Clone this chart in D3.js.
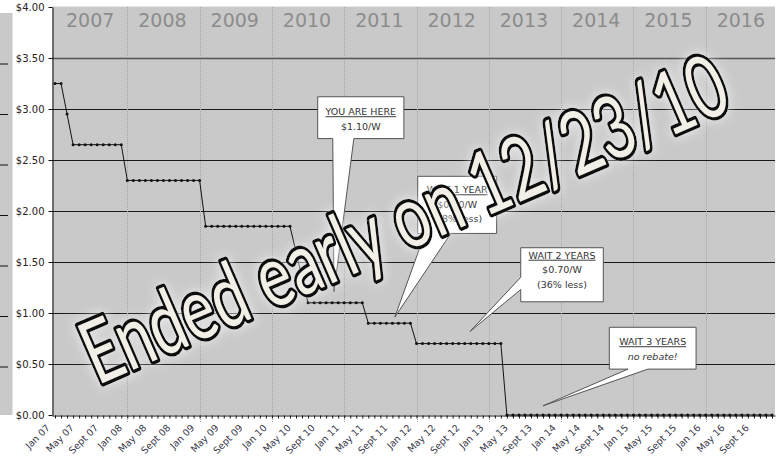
<!DOCTYPE html>
<html>
<head>
<meta charset="utf-8">
<script src="https://cdn.jsdelivr.net/npm/d3@7"></script>
<style>
  body { margin: 0; background: #fff; }
  svg { display: block; font-family: "DejaVu Sans", Verdana, sans-serif; }
</style>
</head>
<body>
<svg id="chart" width="783" height="458"></svg>
<script>
// year bands shown along the top of the plot
var years = ["2007", "2008", "2009", "2010", "2011", "2012", "2013", "2014", "2015", "2016"];

// label under every 4th month
var tickLabels = [
  "Jan 07", "May 07", "Sept 07", "Jan 08", "May 08", "Sept 08",
  "Jan 09", "May 09", "Sept 09", "Jan 10", "May 10", "Sept 10",
  "Jan 11", "May 11", "Sept 11", "Jan 12", "May 12", "Sept 12",
  "Jan 13", "May 13", "Sept 13", "Jan 14", "May 14", "Sept 14",
  "Jan 15", "May 15", "Sept 15", "Jan 16", "May 16", "Sept 16"
];

// rebate in $/W, one value per month from Jan 07 to Dec 16 (null = no point)
var rebate = [
  3.25, 3.25, 2.95, 2.65, 2.65, 2.65, 2.65, 2.65, 2.65, 2.65, 2.65, 2.65,
  2.30, 2.30, 2.30, 2.30, 2.30, 2.30, 2.30, 2.30, 2.30, 2.30, 2.30, 2.30,
  2.30, 1.85, 1.85, 1.85, 1.85, 1.85, 1.85, 1.85, 1.85, 1.85, 1.85, 1.85,
  1.85, 1.85, 1.85, 1.85, null, null, 1.10, 1.10, 1.10, 1.10, 1.10, 1.10,
  1.10, 1.10, 1.10, 1.10, 0.90, 0.90, 0.90, 0.90, 0.90, 0.90, 0.90, 0.90,
  0.70, 0.70, 0.70, 0.70, 0.70, 0.70, 0.70, 0.70, 0.70, 0.70, 0.70, 0.70,
  0.70, 0.70, 0.70, 0, 0, 0, 0, 0, 0, 0, 0, 0,
  0, 0, 0, 0, 0, 0, 0, 0, 0, 0, 0, 0,
  0, 0, 0, 0, 0, 0, 0, 0, 0, 0, 0, 0,
  0, 0, 0, 0, 0, 0, 0, 0, 0, 0, 0, 0
];

var yTicks = [0, 0.5, 1, 1.5, 2, 2.5, 3, 3.5, 4];

// callout boxes, placed in data units (month index, $/W)
var callouts = [
  {lines: ["YOU ARE HERE", "$1.10/W"], box: [43.6, 57.9, 3.12, 2.71], side: "bottom", base: [46.1, 49.6], tip: [46.3, 1.21], pad: 18.5},
  {lines: ["WAIT 1 YEAR", "$0.90/W", "(18% less)"], box: [60.2, 73.3, 2.34, 1.78], side: "bottom", base: [61.4, 65.7], tip: [56.4, 0.96], pad: 17},
  {lines: ["WAIT 2 YEARS", "$0.70/W", "(36% less)"], box: [77.3, 91.0, 1.64, 1.11], side: "left", base: [1.35, 1.23], tip: [68.9, 0.82], pad: 11},
  {lines: ["WAIT 3 YEARS", "no rebate!"], box: [92.0, 106.4, 0.86, 0.45], side: "bottom", base: [95.1, 98.4], tip: [81.0, 0.09], pad: 18, italic: true}
];

var bigText = "Ended early on 12/23/10";

var svg = d3.select("#chart");
var plotL = 52, plotR = 775, plotT = 7, plotB = 415;

var x = d3.scaleLinear().domain([-0.5, rebate.length - 0.5]).range([plotL, plotR]);
var y = d3.scaleLinear().domain([0, 4]).range([plotB, plotT]);

// scrap of the neighbouring chart at the far left
var ghostY = d3.scaleLinear().domain([0, 4]).range([417, 13]);
svg.append("rect").attr("x", 0).attr("y", ghostY(4)).attr("width", 12.5)
  .attr("height", ghostY(0) - ghostY(4) - 2).attr("fill", "#c9c9c9");
svg.selectAll(".ghost").data(yTicks.slice(1, 8)).enter().append("line")
  .attr("x1", 0).attr("x2", 8)
  .attr("y1", d => ghostY(d) + 0.5).attr("y2", d => ghostY(d) + 0.5)
  .attr("stroke", "#111");

// plot background
svg.append("rect").attr("x", plotL).attr("y", plotT - 0.5)
  .attr("width", plotR - plotL).attr("height", plotB - plotT + 0.5)
  .attr("fill", "#c9c9c9");

// horizontal gridlines
svg.selectAll(".grid").data(yTicks.slice(1, 8)).enter().append("line")
  .attr("x1", plotL).attr("x2", plotR)
  .attr("y1", d => Math.round(y(d)) + 0.5).attr("y2", d => Math.round(y(d)) + 0.5)
  .attr("stroke", d => d == 3.5 ? "#555" : "#1a1a1a")
  .attr("stroke-width", d => d == 3.5 ? 1.4 : 1);

// year dividers (dotted) and labels
var janIdx = d3.range(1, years.length).map(k => k * 12);
svg.selectAll(".yr").data(janIdx).enter().append("line")
  .attr("x1", d => Math.round(x(d)) + 0.5).attr("x2", d => Math.round(x(d)) + 0.5)
  .attr("y1", plotT).attr("y2", plotB + 8)
  .attr("stroke", "#a4a4a4").attr("stroke-dasharray", "1,1");

svg.selectAll(".yrlabel").data(years).enter().append("text")
  .attr("x", (d, i) => x(i * 12 + 5.5) + 2)
  .attr("y", 27)
  .attr("text-anchor", "middle")
  .attr("font-size", 19)
  .attr("fill", "#8c8c8c")
  .text(d => d);

// y axis
var yAxis = d3.axisLeft(y).tickValues(yTicks).tickSize(4).tickSizeOuter(0)
  .tickFormat(d3.format("$.2f"));
var gy = svg.append("g").attr("transform", "translate(" + (plotL + 0.5) + ",0)").call(yAxis);
gy.select(".domain").attr("stroke", "#111");
gy.selectAll(".tick line").attr("stroke", "#111");
gy.selectAll("text").attr("font-family", "DejaVu Sans").attr("font-size", 10).attr("fill", "#2a2222").attr("x", -8);

// x axis with a tick every month, label every 4th
var xAxis = d3.axisBottom(x).tickValues(d3.range(rebate.length)).tickSize(3).tickSizeOuter(0)
  .tickFormat(d => d % 4 == 0 ? tickLabels[d / 4] : "");
var gx = svg.append("g").attr("transform", "translate(0," + (plotB + 0.5) + ")").call(xAxis);
gx.select(".domain").attr("stroke", "#111");
gx.selectAll(".tick line").attr("stroke", "#111");
gx.selectAll("text")
  .attr("font-family", "DejaVu Sans").attr("font-size", 9.5).attr("fill", "#3a3a4a")
  .attr("text-anchor", "end").attr("y", 0).attr("dy", 0)
  .attr("transform", "translate(-5,13) rotate(-45)");

// the rebate line and its dots
var pts = rebate.map((v, i) => ({i: i, v: v})).filter(d => d.v !== null);
var line = d3.line().x(d => x(d.i)).y(d => y(d.v));
svg.append("path").datum(pts).attr("d", line)
  .attr("fill", "none").attr("stroke", "#111").attr("stroke-width", 1);
svg.selectAll(".dot").data(pts).enter().append("circle")
  .attr("cx", d => x(d.i)).attr("cy", d => y(d.v)).attr("r", 1.5).attr("fill", "#111");

// callouts
function calloutPath(c) {
  var L = x(c.box[0]), R = x(c.box[1]), T = y(c.box[2]), B = y(c.box[3]);
  var tx = x(c.tip[0]), ty = y(c.tip[1]);
  var p = d3.path();
  p.moveTo(L, T); p.lineTo(R, T); p.lineTo(R, B);
  if (c.side == "bottom") {
    p.lineTo(x(c.base[1]), B); p.lineTo(tx, ty); p.lineTo(x(c.base[0]), B);
    p.lineTo(L, B);
  } else {
    p.lineTo(L, B); p.lineTo(L, y(c.base[1])); p.lineTo(tx, ty); p.lineTo(L, y(c.base[0]));
  }
  p.closePath();
  return p.toString();
}

var cg = svg.selectAll(".callout").data(callouts).enter().append("g");
cg.append("path").attr("d", calloutPath)
  .attr("fill", "#fff").attr("stroke", "#555").attr("stroke-width", 1);
cg.each(function(c) {
  var g = d3.select(this);
  var cx = (x(c.box[0]) + x(c.box[1])) / 2;
  c.lines.forEach(function(t, k) {
    g.append("text")
      .attr("x", cx).attr("y", y(c.box[2]) + c.pad + k * 14.5)
      .attr("text-anchor", "middle").attr("font-size", 9.5).attr("fill", "#333")
      .attr("font-style", c.italic && k > 0 ? "italic" : "normal")
      .attr("text-decoration", k == 0 ? "underline" : "none")
      .text(t);
  });
});

// big overlaid banner text
var defs = svg.append("defs");
var f = defs.append("filter").attr("id", "glow")
  .attr("x", "-10%").attr("y", "-30%").attr("width", "120%").attr("height", "160%");
f.append("feGaussianBlur").attr("in", "SourceAlpha").attr("stdDeviation", 6).attr("result", "b");
f.append("feFlood").attr("flood-color", "#fff").attr("flood-opacity", 0.7);
f.append("feComposite").attr("in2", "b").attr("operator", "in").attr("result", "g");
var fm = f.append("feMerge");
fm.append("feMergeNode").attr("in", "g");
fm.append("feMergeNode").attr("in", "SourceGraphic");

svg.append("g").attr("filter", "url(#glow)")
  .append("text")
  .attr("transform", "translate(416,247) rotate(-23.5)")
  .attr("text-anchor", "middle")
  .attr("font-family", "Lato, 'Open Sans', sans-serif")
  .attr("font-size", 87)
  .attr("textLength", 695).attr("lengthAdjust", "spacingAndGlyphs")
  .attr("fill", "#f1efe6").attr("stroke", "#111").attr("stroke-width", 7)
  .attr("stroke-linejoin", "round").attr("paint-order", "stroke")
  .text(bigText);
</script>
</body>
</html>
